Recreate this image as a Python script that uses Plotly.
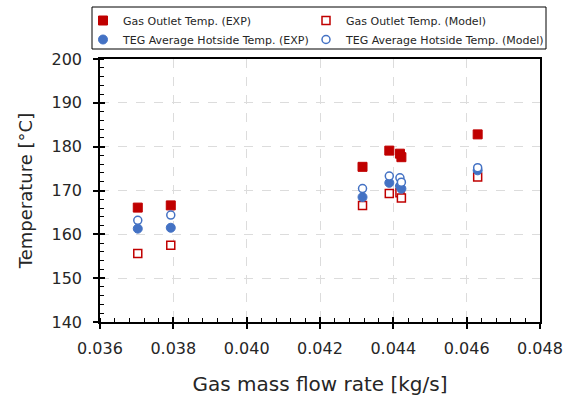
import plotly.graph_objects as go

flow = [0.03703, 0.03793, 0.04316, 0.04389, 0.04418, 0.04422, 0.04630]
gas_exp = [166.1, 166.6, 175.4, 179.1, 178.4, 177.6, 182.8]
gas_model = [155.6, 157.5, 166.6, 169.3, 169.5, 168.3, 173.1]
teg_exp = [161.3, 161.5, 168.5, 171.75, 171.0, 170.4, 174.6]
teg_model = [163.2, 164.4, 170.45, 173.3, 172.9, 171.9, 175.2]

names = ["Gas Outlet Temp. (EXP)", "Gas Outlet Temp. (Model)",
         "TEG Average Hotside Temp. (EXP)", "TEG Average Hotside Temp. (Model)"]

RED = "#C00000"
BLUE = "#4472C4"
FONT = "DejaVu Sans"

fig = go.Figure()
fig.add_trace(go.Scatter(x=flow, y=gas_exp, mode="markers", name=names[0],
                         legend="legend",
                         marker=dict(symbol="square", size=9, color=RED,
                                     line=dict(color=RED, width=1))))
fig.add_trace(go.Scatter(x=flow, y=gas_model, mode="markers", name=names[1],
                         legend="legend2",
                         marker=dict(symbol="square", size=8, color="white",
                                     line=dict(color=RED, width=1.5))))
fig.add_trace(go.Scatter(x=flow, y=teg_exp, mode="markers", name=names[2],
                         legend="legend",
                         marker=dict(symbol="circle", size=9, color=BLUE,
                                     line=dict(color=BLUE, width=1))))
fig.add_trace(go.Scatter(x=flow, y=teg_model, mode="markers", name=names[3],
                         legend="legend2",
                         marker=dict(symbol="circle", size=8, color="white",
                                     line=dict(color=BLUE, width=1.5))))

# invisible trace bound to overlay axes (for crossing major ticks)
fig.add_trace(go.Scatter(x=[0.036], y=[140], xaxis="x2", yaxis="y2",
                         mode="markers", marker=dict(opacity=0),
                         showlegend=False, hoverinfo="skip"))

XR = [0.036, 0.048]
YR = [140, 200]
PW, PH = 440, 263


def px_x(p):
    return (p - 100) / PW


def px_y(p):
    return 1 + (59 - p) / PH


leg_common = dict(orientation="v", xanchor="left", yanchor="top",
                  borderwidth=0, bgcolor="rgba(0,0,0,0)",
                  font=dict(size=11, family=FONT, color="#262626"),
                  tracegroupgap=0)

fig.update_layout(
    width=574, height=397,
    margin=dict(l=100, r=34, t=59, b=75, autoexpand=False),
    paper_bgcolor="white", plot_bgcolor="white",
    font=dict(family=FONT, color="#262626"),
    showlegend=True,
    legend=dict(x=px_x(83), y=px_y(6), **leg_common),
    legend2=dict(x=px_x(306), y=px_y(6), **leg_common),
    shapes=[dict(type="rect", xref="paper", yref="paper",
                 x0=px_x(92), x1=px_x(546), y0=px_y(49), y1=px_y(7),
                 line=dict(color="black", width=1), fillcolor="rgba(0,0,0,0)",
                 layer="above")],
    xaxis=dict(range=XR, dtick=0.002, tick0=0.036, tickformat=".3f",
               showline=True, linecolor="black", linewidth=1.5, mirror=True,
               ticks="outside", ticklen=5, tickcolor="black", tickwidth=1.5,
               ticklabelstandoff=6,
               showgrid=True, gridcolor="#DCDCDC", griddash="dash", gridwidth=1,
               zeroline=False,
               minor=dict(ticks="inside", ticklen=4, dtick=0.0004, tick0=0.036,
                          tickcolor="black", tickwidth=1.2, showgrid=False),
               tickfont=dict(size=16, family=FONT, color="#262626"),
               title=dict(text="Gas mass flow rate [kg/s]", standoff=20,
                          font=dict(size=20, family=FONT, color="#262626"))),
    yaxis=dict(range=YR, dtick=10, tick0=140,
               showline=True, linecolor="black", linewidth=1.5, mirror=True,
               ticks="outside", ticklen=5, tickcolor="black", tickwidth=1.5,
               ticklabelstandoff=8,
               showgrid=True, gridcolor="#DCDCDC", griddash="dash", gridwidth=1,
               zeroline=False,
               minor=dict(ticks="inside", ticklen=4, dtick=2, tick0=140,
                          tickcolor="black", tickwidth=1.2, showgrid=False),
               tickfont=dict(size=16, family=FONT, color="#262626"),
               title=dict(text="Temperature [°C]", standoff=14,
                          font=dict(size=18, family=FONT, color="#262626"))),
    xaxis2=dict(range=XR, overlaying="x", side="bottom", anchor="y",
                dtick=0.002, tick0=0.036, ticks="inside", ticklen=5,
                tickcolor="black", tickwidth=1.5, showticklabels=False,
                showgrid=False, showline=False, zeroline=False),
    yaxis2=dict(range=YR, overlaying="y", side="left", anchor="x",
                dtick=10, tick0=140, ticks="inside", ticklen=5,
                tickcolor="black", tickwidth=1.5, showticklabels=False,
                showgrid=False, showline=False, zeroline=False),
)

fig.write_html("out.html")
